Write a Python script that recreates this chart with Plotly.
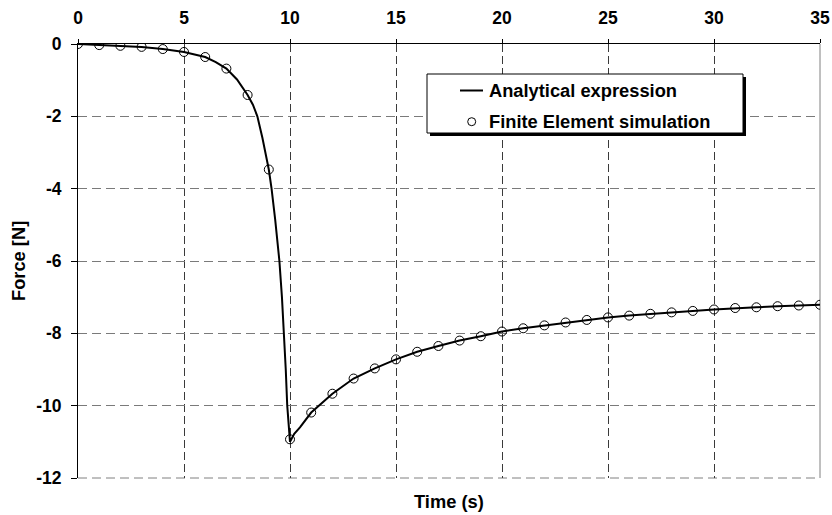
import plotly.graph_objects as go

# ---------------- data ----------------
fe_time = list(range(0, 36))
fe_force = [0.0, -0.03, -0.05, -0.08, -0.14, -0.22, -0.36, -0.68, -1.41, -3.47,
            -10.93, -10.19, -9.67, -9.25, -8.97, -8.72, -8.51, -8.35, -8.20, -8.08,
            -7.95, -7.86, -7.78, -7.70, -7.63, -7.56, -7.51, -7.46, -7.42, -7.38,
            -7.34, -7.30, -7.28, -7.25, -7.23, -7.21]

an_time = [0, 1, 2, 3, 4, 5, 6, 6.5, 7, 7.5, 8, 8.25, 8.46, 8.7, 9, 9.13, 9.3, 9.5,
           9.62, 9.72, 9.8, 9.87, 9.94, 10.0,
           10.2, 10.47, 11, 12, 13, 14, 15, 16, 17, 18, 19, 20, 21, 22, 23, 24, 25,
           26, 27, 28, 29, 30, 31, 32, 33, 34, 35]
an_force = [0.0, -0.03, -0.05, -0.08, -0.14, -0.22, -0.36, -0.50, -0.68, -0.98, -1.41,
            -1.68, -2.0, -2.6, -3.47, -4.0, -4.85, -6.0,
            -7.0, -8.0, -9.0, -10.0, -10.6, -11.0,
            -10.78, -10.6, -10.19, -9.67, -9.25, -8.97, -8.72, -8.51, -8.35, -8.20,
            -8.08, -7.95, -7.86, -7.78, -7.70, -7.63, -7.56, -7.51, -7.46, -7.42,
            -7.38, -7.34, -7.30, -7.28, -7.25, -7.23, -7.21]

x_ticks = [0, 5, 10, 15, 20, 25, 30, 35]
x_ticktext = ["0", "5", "10", "15", "20", "25", "30", "35"]
y_ticks = [0, -2, -4, -6, -8, -10, -12]
y_ticktext = ["0", "-2", "-4", "-6", "-8", "-10", "-12"]
legend_labels = ["Analytical expression", "Finite Element simulation"]
x_title = "Time (s)"
y_title = "Force [N]"

# ---------------- layout geometry (page pixels) ----------------
W, H = 832, 515
PL, PR, PT, PB = 78, 820, 44, 478   # plot area in pixels
L, T, R, B = PL, PT, W - PR, H - PB
PW, PH = PR - PL, PB - PT
FONT = "Arial, 'Liberation Sans', sans-serif"
FS_TICK = 17.5
FS_TEXT = 18.3


def px(xp):
    return (xp - PL) / PW


def py(yp):
    return (PB - yp) / PH


fig = go.Figure()
fig.add_trace(go.Scatter(x=an_time, y=an_force, mode="lines",
                         line=dict(color="black", width=2),
                         name=legend_labels[0], showlegend=False))
fig.add_trace(go.Scatter(x=fe_time, y=fe_force, mode="markers",
                         marker=dict(symbol="circle-open", size=9,
                                     color="black", line=dict(width=1, color="black")),
                         name=legend_labels[1], showlegend=False))

tickfont = dict(family=FONT, size=FS_TICK, color="black", weight="bold")

fig.update_xaxes(range=[0, 35], tickvals=x_ticks, ticktext=x_ticktext, side="top",
                 ticks="outside", ticklen=4, tickcolor="black", showline=True,
                 linecolor="black", linewidth=1, showgrid=True, gridcolor="#3a3a3a",
                 gridwidth=1, griddash="8px,4px", zeroline=False, tickfont=tickfont,
                 ticklabelstandoff=8, automargin=False)
fig.update_yaxes(range=[-12, 0], tickvals=y_ticks, ticktext=y_ticktext,
                 ticks="outside", ticklen=6, tickcolor="black", showline=True,
                 linecolor="black", linewidth=1, showgrid=True, gridcolor="#7a7a7a",
                 gridwidth=1, griddash="9px,5px", zeroline=False, tickfont=tickfont,
                 ticklabelstandoff=6, automargin=False)

shapes = [
    # right border
    dict(type="line", xref="paper", yref="paper", x0=1, x1=1, y0=0, y1=1,
         line=dict(color="#808080", width=1), layer="below"),
    # bottom border (dashed)
    dict(type="line", xref="paper", yref="paper", x0=0, x1=1, y0=0, y1=0,
         line=dict(color="#808080", width=1, dash="9px,5px"), layer="below"),
    # legend shadow
    dict(type="rect", xref="paper", yref="paper", x0=px(430), x1=px(746),
         y0=py(77), y1=py(136), fillcolor="black", line=dict(width=0), layer="above"),
    # legend box
    dict(type="rect", xref="paper", yref="paper", x0=px(427), x1=px(743),
         y0=py(74), y1=py(133), fillcolor="white",
         line=dict(color="black", width=1), layer="above"),
    # legend line sample
    dict(type="line", xref="paper", yref="paper", x0=px(460), x1=px(483),
         y0=py(90.5), y1=py(90.5), line=dict(color="black", width=2), layer="above"),
    # legend circle sample
    dict(type="circle", xref="paper", yref="paper", x0=px(467.7), x1=px(475.7),
         y0=py(117.7), y1=py(125.7), line=dict(color="black", width=1),
         fillcolor="rgba(0,0,0,0)", layer="above"),
]

lfont = dict(family=FONT, size=FS_TEXT, color="black", weight="bold")
annotations = [
    dict(text=legend_labels[0], xref="paper", yref="paper", x=px(487), y=py(90.5),
         xanchor="left", yanchor="middle", showarrow=False, font=lfont),
    dict(text=legend_labels[1], xref="paper", yref="paper", x=px(487), y=py(121.7),
         xanchor="left", yanchor="middle", showarrow=False, font=lfont),
    dict(text=x_title, xref="paper", yref="paper", x=0.5, y=py(501),
         xanchor="center", yanchor="middle", showarrow=False, font=lfont),
    dict(text=y_title, xref="paper", yref="paper", x=px(18), y=0.5, textangle=-90,
         xanchor="center", yanchor="middle", showarrow=False, font=lfont),
]

fig.update_layout(width=W, height=H, margin=dict(l=L, r=R, t=T, b=B),
                  paper_bgcolor="white", plot_bgcolor="white",
                  shapes=shapes, annotations=annotations, showlegend=False)

fig.write_html("out.html",
               config={"displayModeBar": False, "staticPlot": True},
               post_script="document.body.style.margin='0';"
                           "document.body.style.overflow='hidden';")
